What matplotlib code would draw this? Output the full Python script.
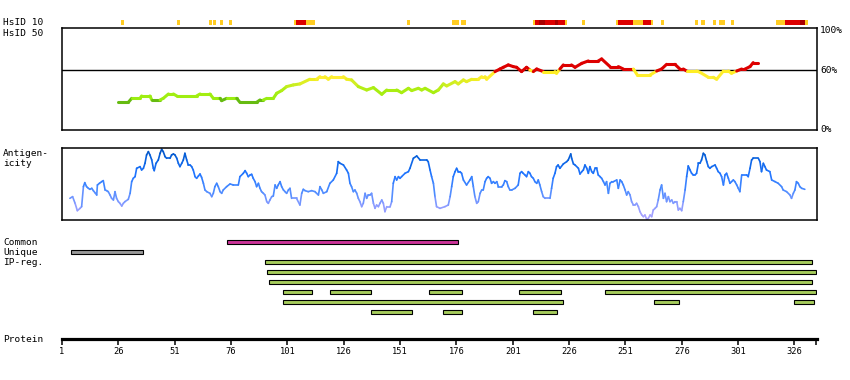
import numpy as np
import matplotlib
matplotlib.use("Agg")
import matplotlib.pyplot as plt
from matplotlib.collections import LineCollection
from matplotlib.colors import LinearSegmentedColormap, Normalize

# ---- data ----
prot_len = 335.8
tick_pos = [1, 26, 51, 76, 101, 126, 151, 176, 201, 226, 251, 276, 301, 326]

# HsID 10 strip: start, end (residues), level 1=weak 2=strong 3=very strong
hs10_start = [27.2, 52.0, 66.2, 68.0, 71.0, 75.0, 103.9, 104.8, 109.2, 154.0, 174.0, 178.0,
              209.9, 210.8, 212.5, 215.2, 219.6, 221.0, 224.2, 231.6, 246.7, 247.6, 254.2,
              258.6, 262.2, 266.6, 281.7, 284.4, 289.7, 292.4, 297.7, 317.6, 321.6, 328.3, 330.5]
hs10_end = [28.5, 53.3, 67.5, 69.3, 72.4, 76.4, 104.8, 109.2, 113.2, 155.3, 177.0, 180.3,
            210.8, 212.5, 215.2, 219.6, 221.0, 224.2, 225.1, 233.0, 247.6, 254.2, 258.6,
            262.2, 263.0, 268.0, 283.0, 286.2, 291.0, 295.0, 299.0, 321.6, 328.3, 330.5, 331.8]
hs10_level = [1, 1, 1, 1, 1, 1, 1, 2, 1, 1, 1, 1,
              1, 2, 3, 2, 3, 2, 1, 1, 1, 2, 1,
              2, 1, 1, 1, 1, 1, 1, 1, 1, 2, 3, 1]

# HsID 50 identity (%)
hs_res = [26.0, 30.4, 31.9, 35.6, 36.3, 40.0, 40.8, 44.5, 45.9, 48.2, 50.4, 51.9, 60.7, 62.2,
          66.6, 68.1, 71.1, 71.8, 74.0, 78.5, 79.9, 87.3, 88.8, 90.3, 91.8, 94.7, 96.2, 98.4,
          100.6, 103.6, 106.5, 110.9, 113.9, 115.4, 117.6, 119.1, 120.6, 125.8, 127.2, 129.4,
          132.4, 136.1, 139.1, 142.8, 145.0, 149.4, 151.6, 154.6, 156.1, 159.0, 160.5, 162.0,
          165.7, 167.9, 170.1, 171.6, 175.3, 176.7, 179.0, 180.4, 182.7, 185.6, 187.1, 188.6,
          189.3, 193.0, 195.2, 196.7, 198.9, 201.1, 202.6, 204.8, 207.0, 208.5, 210.0, 211.5,
          214.4, 219.6, 220.3, 221.8, 223.3, 226.9, 228.5, 231.5, 234.4, 238.8, 240.3, 244.0,
          247.7, 249.9, 254.4, 256.1, 261.8, 264.7, 266.9, 269.1, 272.8, 275.0, 276.5, 278.0,
          282.4, 283.9, 287.6, 289.8, 291.3, 294.3, 296.5, 297.9, 300.2, 302.4, 303.9, 306.1,
          307.5, 309.8]
hs_val = [27.8, 27.8, 31.8, 31.8, 34.2, 34.2, 30.2, 30.2, 31.8, 36.2, 36.2, 34.2, 34.2, 36.2,
          36.2, 31.8, 31.8, 29.5, 31.8, 31.8, 27.8, 27.8, 30.2, 30.2, 31.8, 31.8, 36.9, 39.6,
          43.6, 45.3, 46.3, 51.0, 51.0, 53.6, 53.6, 51.0, 53.6, 53.6, 51.0, 50.3,
          43.6, 40.2, 42.6, 35.9, 40.2, 40.2, 37.5, 41.9, 39.6, 41.9, 40.2, 41.9,
          37.5, 40.2, 46.3, 44.3, 48.6, 46.3, 50.3, 48.6, 51.0, 51.0, 53.6, 53.6,
          51.0, 58.7, 61.3, 63.0, 65.4, 63.7, 63.0, 58.7, 63.0, 60.3, 58.7, 61.3,
          58.7, 58.7, 57.0, 61.3, 65.4, 65.4, 63.0, 67.0, 69.4, 69.4, 71.4, 63.7,
          63.7, 61.3, 61.3, 55.3, 55.3, 59.3, 61.3, 66.0, 66.0, 61.3, 61.3, 59.3,
          59.3, 58.0, 53.0, 53.0, 51.0, 59.3, 59.3, 57.0, 59.3, 61.3, 61.3, 63.7,
          67.7, 67.7]

# Antigenicity (relative score)
ag_res = [4.5, 5.7, 6.8, 7.8, 9.0, 9.7, 10.5, 11.1, 11.9, 12.7, 13.4, 14.2, 14.9, 15.6, 16.4,
          16.7, 17.6, 18.6, 19.3, 20.1, 20.8, 21.5, 22.3, 23.0, 23.8, 24.5, 25.2, 26.0, 26.7,
          27.5, 28.2, 28.9, 30.4, 31.2, 31.9, 32.6, 33.4, 34.1, 35.6, 36.3, 37.1, 37.8, 38.5,
          39.3, 40.0, 40.8, 41.5, 41.9, 42.7, 43.7, 44.5, 45.2, 45.9, 46.7, 47.4, 48.9, 49.6,
          50.4, 51.1, 51.9, 52.6, 53.3, 54.1, 54.8, 55.5, 56.3, 57.0, 57.8, 58.5, 59.2, 60.0,
          60.7, 61.5, 62.2, 62.9, 63.7, 64.4, 65.2, 66.6, 67.4, 68.1, 68.8, 69.6, 70.3, 71.1,
          71.8, 72.5, 74.0, 75.5, 77.0, 79.2, 79.9, 81.4, 82.2, 82.9, 83.6, 84.4, 85.1, 85.8,
          86.6, 87.3, 88.1, 88.8, 89.5, 90.3, 91.0, 91.8, 92.5, 93.2, 94.0, 94.7, 95.5, 96.2,
          96.9, 97.7, 98.4, 99.2, 99.9, 100.6, 101.4, 102.1, 102.8, 105.0, 106.5, 107.3, 108.0,
          108.8, 110.2, 111.7, 113.2, 113.9, 114.7, 115.4, 116.2, 116.9, 118.4, 119.8, 121.3,
          122.8, 123.5, 124.3, 125.8, 127.2, 128.0, 128.7, 129.4, 130.2, 130.9, 131.7, 132.4,
          133.1, 133.9, 134.6, 135.4, 136.1, 136.8, 137.6, 138.3, 139.1, 139.8, 140.5, 141.3,
          142.0, 142.8, 143.5, 144.2, 145.0, 146.5, 147.2, 147.9, 148.7, 149.4, 150.2, 150.9,
          151.6, 153.1, 154.6, 155.3, 156.8, 158.3, 159.8, 162.7, 163.4, 164.2, 164.9, 165.7,
          166.4, 167.1, 168.6, 170.8, 172.3, 173.1, 173.8, 174.5, 175.3, 176.0, 176.7, 177.5,
          178.2, 179.0, 180.4, 181.9, 182.7, 183.4, 184.1, 184.9, 185.6, 186.4, 187.1, 187.8,
          188.6, 189.3, 190.0, 190.8, 191.5, 192.3, 193.0, 193.8, 194.5, 196.0, 196.7, 197.4,
          198.2, 198.9, 199.6, 200.4, 201.9, 203.3, 204.1, 204.8, 205.5, 206.3, 207.0, 207.8,
          208.5, 209.2, 210.0, 210.7, 211.5, 212.2, 212.9, 213.7, 214.4, 215.2, 217.4, 218.1,
          218.8, 219.6, 220.3, 221.0, 221.8, 223.3, 224.8, 225.5, 226.6, 227.0, 227.8, 228.5,
          230.0, 230.7, 231.5, 232.2, 232.9, 233.7, 234.4, 235.1, 235.9, 236.6, 237.4, 238.1,
          238.8, 239.6, 240.3, 241.1, 241.8, 242.5, 243.3, 244.0, 244.8, 245.5, 247.0, 247.7,
          248.5, 249.2, 249.9, 250.7, 251.4, 252.1, 252.9, 253.6, 254.4, 255.1, 255.8, 256.6,
          257.3, 258.1, 258.8, 259.5, 260.3, 261.0, 261.8, 262.5, 263.2, 264.0, 264.7, 265.4,
          266.2, 266.9, 267.7, 268.4, 269.1, 269.9, 270.6, 271.4, 272.1, 272.8, 273.6, 274.3,
          275.0, 275.8, 276.5, 277.3, 278.0, 278.7, 279.5, 280.2, 281.0, 281.7, 282.4, 283.2,
          283.9, 284.6, 285.4, 286.1, 286.9, 287.6, 288.3, 289.1, 290.6, 291.3, 292.0, 292.8,
          293.5, 294.3, 295.0, 295.7, 296.5, 297.2, 297.9, 298.7, 299.4, 300.2, 300.9, 301.6,
          302.4, 304.6, 305.3, 306.1, 306.8, 307.5, 309.8, 310.5, 311.2, 312.0, 312.7, 313.4,
          314.9, 315.7, 317.2, 318.6, 320.1, 320.8, 322.3, 323.8, 324.5, 325.3, 326.0, 326.7,
          327.5, 328.2, 329.0, 330.4]
ag_val = [0.65, 0.70, 0.50, 0.28, 0.35, 0.40, 1.00, 1.12, 1.00, 0.95, 0.92, 0.95, 0.88, 0.82, 0.75,
          1.05, 1.10, 1.15, 1.18, 0.90, 0.88, 0.85, 0.75, 0.65, 0.60, 0.85, 0.65, 0.55, 0.50,
          0.42, 0.50, 0.55, 0.62, 0.80, 1.15, 1.25, 1.30, 1.55, 1.60, 1.50, 1.55, 1.70, 1.95,
          2.05, 1.95, 1.80, 1.55, 1.48, 1.70, 1.80, 2.00, 2.12, 2.05, 1.90, 1.85, 1.85, 1.95,
          1.98, 1.95, 1.85, 1.70, 1.60, 1.70, 1.80, 2.00, 1.80, 1.65, 1.65, 1.60, 1.50, 1.30,
          1.25, 1.32, 1.38, 1.28, 1.10, 0.90, 0.85, 0.80, 0.70, 0.80, 1.00, 1.10, 1.00, 0.85,
          0.80, 0.90, 1.00, 1.08, 1.05, 1.05, 1.30, 1.40, 1.48, 1.40, 1.30, 1.35, 1.37, 1.25,
          1.15, 1.00, 1.10, 0.95, 0.85, 0.80, 0.75, 0.55, 0.50, 0.60, 0.70, 0.72, 1.05, 0.95,
          1.05, 1.15, 1.00, 0.90, 0.85, 0.80, 0.90, 0.95, 0.65, 0.65, 0.45, 0.80, 0.92,
          0.88, 0.85, 0.88, 0.85, 0.80, 0.75, 1.00, 0.90, 0.80, 0.85, 1.10, 1.20,
          1.40, 1.75, 1.70, 1.65, 1.50, 1.40, 1.10, 1.00, 0.85, 0.90, 0.80, 0.65,
          0.55, 0.40, 0.50, 0.80, 0.65, 0.75, 0.75, 0.80, 0.50, 0.35, 0.45, 0.40,
          0.50, 0.60, 0.50, 0.25, 0.40, 0.40, 0.55, 1.10, 1.30, 1.20, 1.30, 1.25,
          1.30, 1.40, 1.45, 1.55, 1.85, 1.92, 1.80, 1.80, 1.75, 1.50, 1.30, 1.10,
          0.70, 0.40, 0.35, 0.40, 0.45, 0.70, 1.00, 1.30, 1.45, 1.55, 1.45, 1.45,
          1.40, 1.20, 1.05, 1.20, 1.30, 1.00, 0.70, 0.50, 0.55, 0.80, 0.90, 0.90,
          1.15, 1.25, 1.30, 1.25, 1.10, 1.15, 1.10, 1.15, 1.00, 1.00, 1.05, 1.18,
          1.15, 1.00, 0.90, 0.90, 0.95, 1.05, 1.40, 1.45, 1.40, 1.35, 1.30, 1.45,
          1.40, 1.30, 1.25, 1.15, 1.10, 1.20, 1.05, 0.85, 0.70, 0.65, 0.65, 0.95,
          1.25, 1.40, 1.60, 1.65, 1.55, 1.68, 1.75, 1.80, 1.98, 1.85, 1.68, 1.65,
          1.55, 1.38, 1.45, 1.50, 1.65, 1.55, 1.40, 1.60, 1.45, 1.40, 1.55, 1.55,
          1.35, 1.30, 1.25, 1.15, 1.05, 1.15, 0.80, 1.10, 1.15, 1.15, 1.20, 0.95,
          1.20, 1.15, 1.05, 0.90, 0.75, 0.85, 0.75, 0.55, 0.45, 0.45, 0.50, 0.40,
          0.25, 0.15, 0.10, 0.15, 0.02, 0.05, 0.15, 0.10, 0.30, 0.35, 0.40, 0.60,
          0.90, 1.05, 0.65, 0.80, 0.55, 0.70, 0.55, 0.60, 0.50, 0.55, 0.55, 0.30,
          0.35, 0.28, 0.55, 0.90, 1.30, 1.62, 1.50, 1.40, 1.35, 1.35, 1.40, 1.70,
          1.70, 1.80, 2.00, 1.95, 1.75, 1.60, 1.55, 1.60, 1.65, 1.55, 1.45, 1.40,
          1.30, 1.05, 1.35, 1.40, 1.25, 1.10, 1.15, 1.20, 1.15, 1.05, 0.95, 0.85,
          1.35, 1.35, 1.30, 1.55, 1.80, 1.85, 1.85, 1.75, 1.45, 1.70, 1.60, 1.50,
          1.45, 1.20, 1.15, 1.10, 1.00, 0.90, 0.85, 0.75, 0.65, 0.80, 0.90, 1.15,
          1.10, 1.00, 0.95, 0.92]

# feature tracks: row, start, end
common_start, common_end = [74.3], [176.7]
unique_start, unique_end = [5.1], [37.0]
ip_row = [2, 3, 4, 5, 5, 5, 5, 5, 6, 6, 6, 7, 7, 7]
ip_start = [91.2, 92.0, 92.9, 99.1, 120.0, 163.9, 203.8, 241.9, 99.1, 263.7, 325.7, 138.2, 170.1, 210.0]
ip_end = [333.7, 335.5, 333.7, 112.0, 138.2, 178.2, 222.2, 335.5, 223.0, 274.7, 334.6, 156.1, 178.2, 220.6]

# ---- layout helpers (pixel boxes) ----
W, H = 850, 380
FONT = "DejaVu Sans Mono"


def box(x0, y0, x1, y1):
    return [x0 / W, 1 - y1 / H, (x1 - x0) / W, (y1 - y0) / H]


def label(x, y, s):
    fig.text(x / W, 1 - y / H, s, ha="left", va="center", family=FONT, size=6.8)


fig = plt.figure(figsize=(8.5, 3.8), dpi=100)

# HsID 10 strip
ax_s = fig.add_axes(box(62, 20, 817, 25))
ax_s.set_xlim(1, prot_len)
ax_s.set_ylim(0, 1)
ax_s.axis("off")
lvl_col = {1: "#ffcc22", 2: "#dd0000", 3: "#aa0000"}
for s, e, l in zip(hs10_start, hs10_end, hs10_level):
    ax_s.barh(0.5, e - s, left=s, height=1, color=lvl_col[l], lw=0)

# HsID 50 panel
ax_h = fig.add_axes(box(62, 28.3, 817, 130))
ax_h.set_xlim(1, prot_len)
ax_h.set_ylim(0, 102.2)
ax_h.set_xticks([])
ax_h.set_yticks([])
for sp in ax_h.spines.values():
    sp.set_linewidth(1.1)
ax_h.axhline(60, color="black", lw=1.0, zorder=1)

# green -> yellow below 60 %, red above
green_cmap = LinearSegmentedColormap.from_list(
    "hs", [(0.0, "#99ee11"), (0.31, "#aaee11"), (0.52, "#ccee22"), (0.69, "#eeee22"),
           (0.76, "#ffee33"), (1.0, "#ffee22")])
gnorm = Normalize(31, 60)
pts = np.column_stack([hs_res, hs_val])
segs = np.stack([pts[:-1], pts[1:]], axis=1)
cols = []
for a, b in zip(hs_val[:-1], hs_val[1:]):
    m = (a + b) / 2
    if m >= 60:
        cols.append("#dd0000")
    elif m < 31:
        cols.append("#66bb11")
    else:
        cols.append(green_cmap(gnorm(m)))
ax_h.add_collection(LineCollection(segs, colors=cols, linewidths=2.2, capstyle="round", zorder=2))

for v, t in [(100, "100%"), (60, "60%"), (0, "0%")]:
    ax_h.text(1.004, v, t, transform=ax_h.get_yaxis_transform(), ha="left", va="center",
              family=FONT, size=6.8, clip_on=False)

# Antigenicity panel
ax_a = fig.add_axes(box(62, 148.3, 817, 220))
ax_a.set_xlim(1, prot_len)
ax_a.set_ylim(0, 2.15)
ax_a.set_xticks([])
ax_a.set_yticks([])
for sp in ax_a.spines.values():
    sp.set_linewidth(1.1)
ag_cmap = LinearSegmentedColormap.from_list(
    "ag", [(0.0, "#b0a4ff"), (0.2, "#8c9cff"), (0.42, "#4a8bff"), (0.65, "#1f74ff"),
           (0.85, "#0862e0"), (1.0, "#0050bb")])
anorm = Normalize(0, 2.15)
pts = np.column_stack([ag_res, ag_val])
segs = np.stack([pts[:-1], pts[1:]], axis=1)
mids = (np.array(ag_val[:-1]) + np.array(ag_val[1:])) / 2
ax_a.add_collection(LineCollection(segs, colors=ag_cmap(anorm(mids)), linewidths=1.2, capstyle="round"))

# feature tracks
ax_t = fig.add_axes(box(62, 236, 817, 320))
ax_t.set_xlim(1, prot_len)
ax_t.set_ylim(7.77, -0.63)
ax_t.axis("off")
bar_kw = dict(height=0.42, edgecolor="black", linewidth=0.8)
for s, e in zip(common_start, common_end):
    ax_t.barh(0, e - s, left=s, color="#cc3399", **bar_kw)
for s, e in zip(unique_start, unique_end):
    ax_t.barh(1, e - s, left=s, color="#999999", **bar_kw)
for r, s, e in zip(ip_row, ip_start, ip_end):
    ax_t.barh(r, e - s, left=s, color="#a6cc5c", **bar_kw)

# protein axis
ax_p = fig.add_axes(box(62, 330, 816.5, 339))
ax_p.set_xlim(1, prot_len)
ax_p.set_yticks([])
for k in ["top", "left", "right"]:
    ax_p.spines[k].set_visible(False)
ax_p.spines["bottom"].set_linewidth(2.3)
ax_p.patch.set_alpha(0)
ax_p.set_xticks(tick_pos + [prot_len - 0.3])
ax_p.set_xticklabels([str(t) for t in tick_pos] + [""], family=FONT, fontsize=6.3)
ax_p.tick_params(axis="x", direction="out", length=4.2, width=1.1, pad=1.5)

label(3, 22.5, "HsID 10")
label(3, 33, "HsID 50")
label(3, 153, "Antigen-")
label(3, 163, "icity")
label(3, 242.5, "Common")
label(3, 252.5, "Unique")
label(3, 262.5, "IP-reg.")
label(3, 339, "Protein")

fig.savefig("out.png", dpi=100)
